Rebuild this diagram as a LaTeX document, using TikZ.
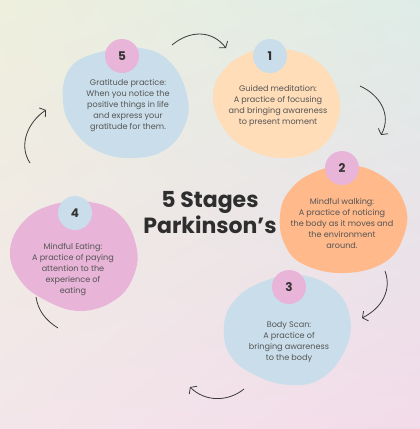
\documentclass[tikz,border=0pt]{standalone}
\usepackage{fontspec}
\setmainfont{Poppins}
\usetikzlibrary{arrows.meta,shadings}
\definecolor{bgul}{HTML}{EEEFDD}
\definecolor{bgur}{HTML}{DEECE7}
\definecolor{bgll}{HTML}{F3E6EA}
\definecolor{bglr}{HTML}{F3DBEA}
\definecolor{blobblue}{HTML}{C9DEEA}
\definecolor{blobpeach}{HTML}{FFDDB8}
\definecolor{bloborange}{HTML}{FFB98A}
\definecolor{blobpink}{HTML}{E8B4D8}
\definecolor{txt}{HTML}{555555}
\definecolor{arr}{HTML}{3A3A3A}
\tikzset{
  numcirc/.style={circle, minimum size=34pt, inner sep=0pt, font=\fontsize{12}{12}\selectfont\bfseries, text=black!80},
  desc/.style={align=center, font=\fontsize{8.1}{11}\selectfont, text=txt, inner sep=0pt},
  flow/.style={draw=arr, line width=0.8pt, -{Straight Barb[length=4pt,width=11pt]}},
  plainflow/.style={draw=arr, line width=0.8pt},
}
\begin{document}
\begin{tikzpicture}[x=1pt,y=-1pt]
\shade[upper left=bgul, upper right=bgur, lower left=bgll, lower right=bglr] (0,0) rectangle (420,429);
\useasboundingbox (0,0) rectangle (420,429);
% blobs
\fill[blobblue] plot[smooth cycle, tension=0.7] coordinates {(70,68) (100,52) (140,48) (170,62) (187,95) (185,125) (165,150) (133,158) (100,152) (75,132) (63,102)};
\fill[blobpeach] plot[smooth cycle, tension=0.7] coordinates {(222,72) (250,52) (285,49) (318,62) (337,90) (338,120) (320,148) (285,158) (250,150) (225,130) (213,100)};
\fill[bloborange] plot[smooth cycle, tension=0.7] coordinates {(290,190) (315,172) (350,165) (385,178) (405,205) (404,235) (385,262) (345,273) (305,265) (285,245) (280,215)};
\fill[blobblue] plot[smooth cycle, tension=0.7] coordinates {(235,300) (262,282) (300,275) (335,290) (350,318) (345,350) (322,378) (290,385) (255,375) (230,355) (224,325)};
\fill[blobpink] plot[smooth cycle, tension=0.7] coordinates {(25,220) (55,204) (90,202) (120,215) (136,245) (134,275) (115,300) (80,311) (45,300) (20,280) (10,250)};
% number circles
\node[numcirc, fill=blobpink] (n5) at (122,56) {5};
\node[numcirc, fill=blobblue] (n1) at (270,56) {1};
\node[numcirc, fill=blobpink] (n2) at (342,168) {2};
\node[numcirc, fill=blobpink] (n3) at (289,287) {3};
\node[numcirc, fill=blobblue] (n4) at (75,213) {4};
% descriptions
\node[desc] (d5) at (128,106) {Gratitude practice:\\When you notice the\\positive things in life\\and express your\\gratitude for them.};
\node[desc] (d1) at (278,106) {Guided meditation:\\A practice of focusing\\and bringing awareness\\to present moment};
\node[desc] (d2) at (342,223) {Mindful walking:\\A practice of noticing\\the body as it moves and\\the environment\\around.};
\node[desc] (d3) at (289,342) {Body Scan:\\A practice of\\bringing awareness\\to the body};
\node[desc] (d4) at (73,269) {Mindful Eating:\\A practice of paying\\attention to the\\experience of\\eating};
% title
\node[align=center, font=\fontsize{22}{26}\selectfont\bfseries, text=black!82, inner sep=0pt] (title) at (210,213) {5 Stages\\Parkinson’s};
% arrows
\coordinate (a1s) at (172,45); \coordinate (a1e) at (226,48);
\coordinate (a2s) at (360,86); \coordinate (a2e) at (381,135);
\coordinate (a3s) at (385,271); \coordinate (a3e) at (362,318);
\coordinate (a4s) at (244,389); \coordinate (a4e) at (190,387);
\coordinate (a5s) at (58,328); \coordinate (a5e) at (36,297);
\coordinate (a6s) at (30,163); \coordinate (a6e) at (46,110);
\draw[flow] (a1s) .. controls (190,30) and (212,30) .. (a1e);
\draw[flow] (a2s) .. controls (380,95) and (392,115) .. (a2e);
\draw[flow] (a3s) .. controls (392,290) and (382,308) .. (a3e);
\draw[flow] (a4s) .. controls (228,402) and (205,402) .. (a4e);
\draw[plainflow] (a5s) .. controls (45,320) and (38,310) .. (a5e);
\draw[flow] (a6s) .. controls (18,145) and (28,122) .. (a6e);
\end{tikzpicture}
\end{document}
